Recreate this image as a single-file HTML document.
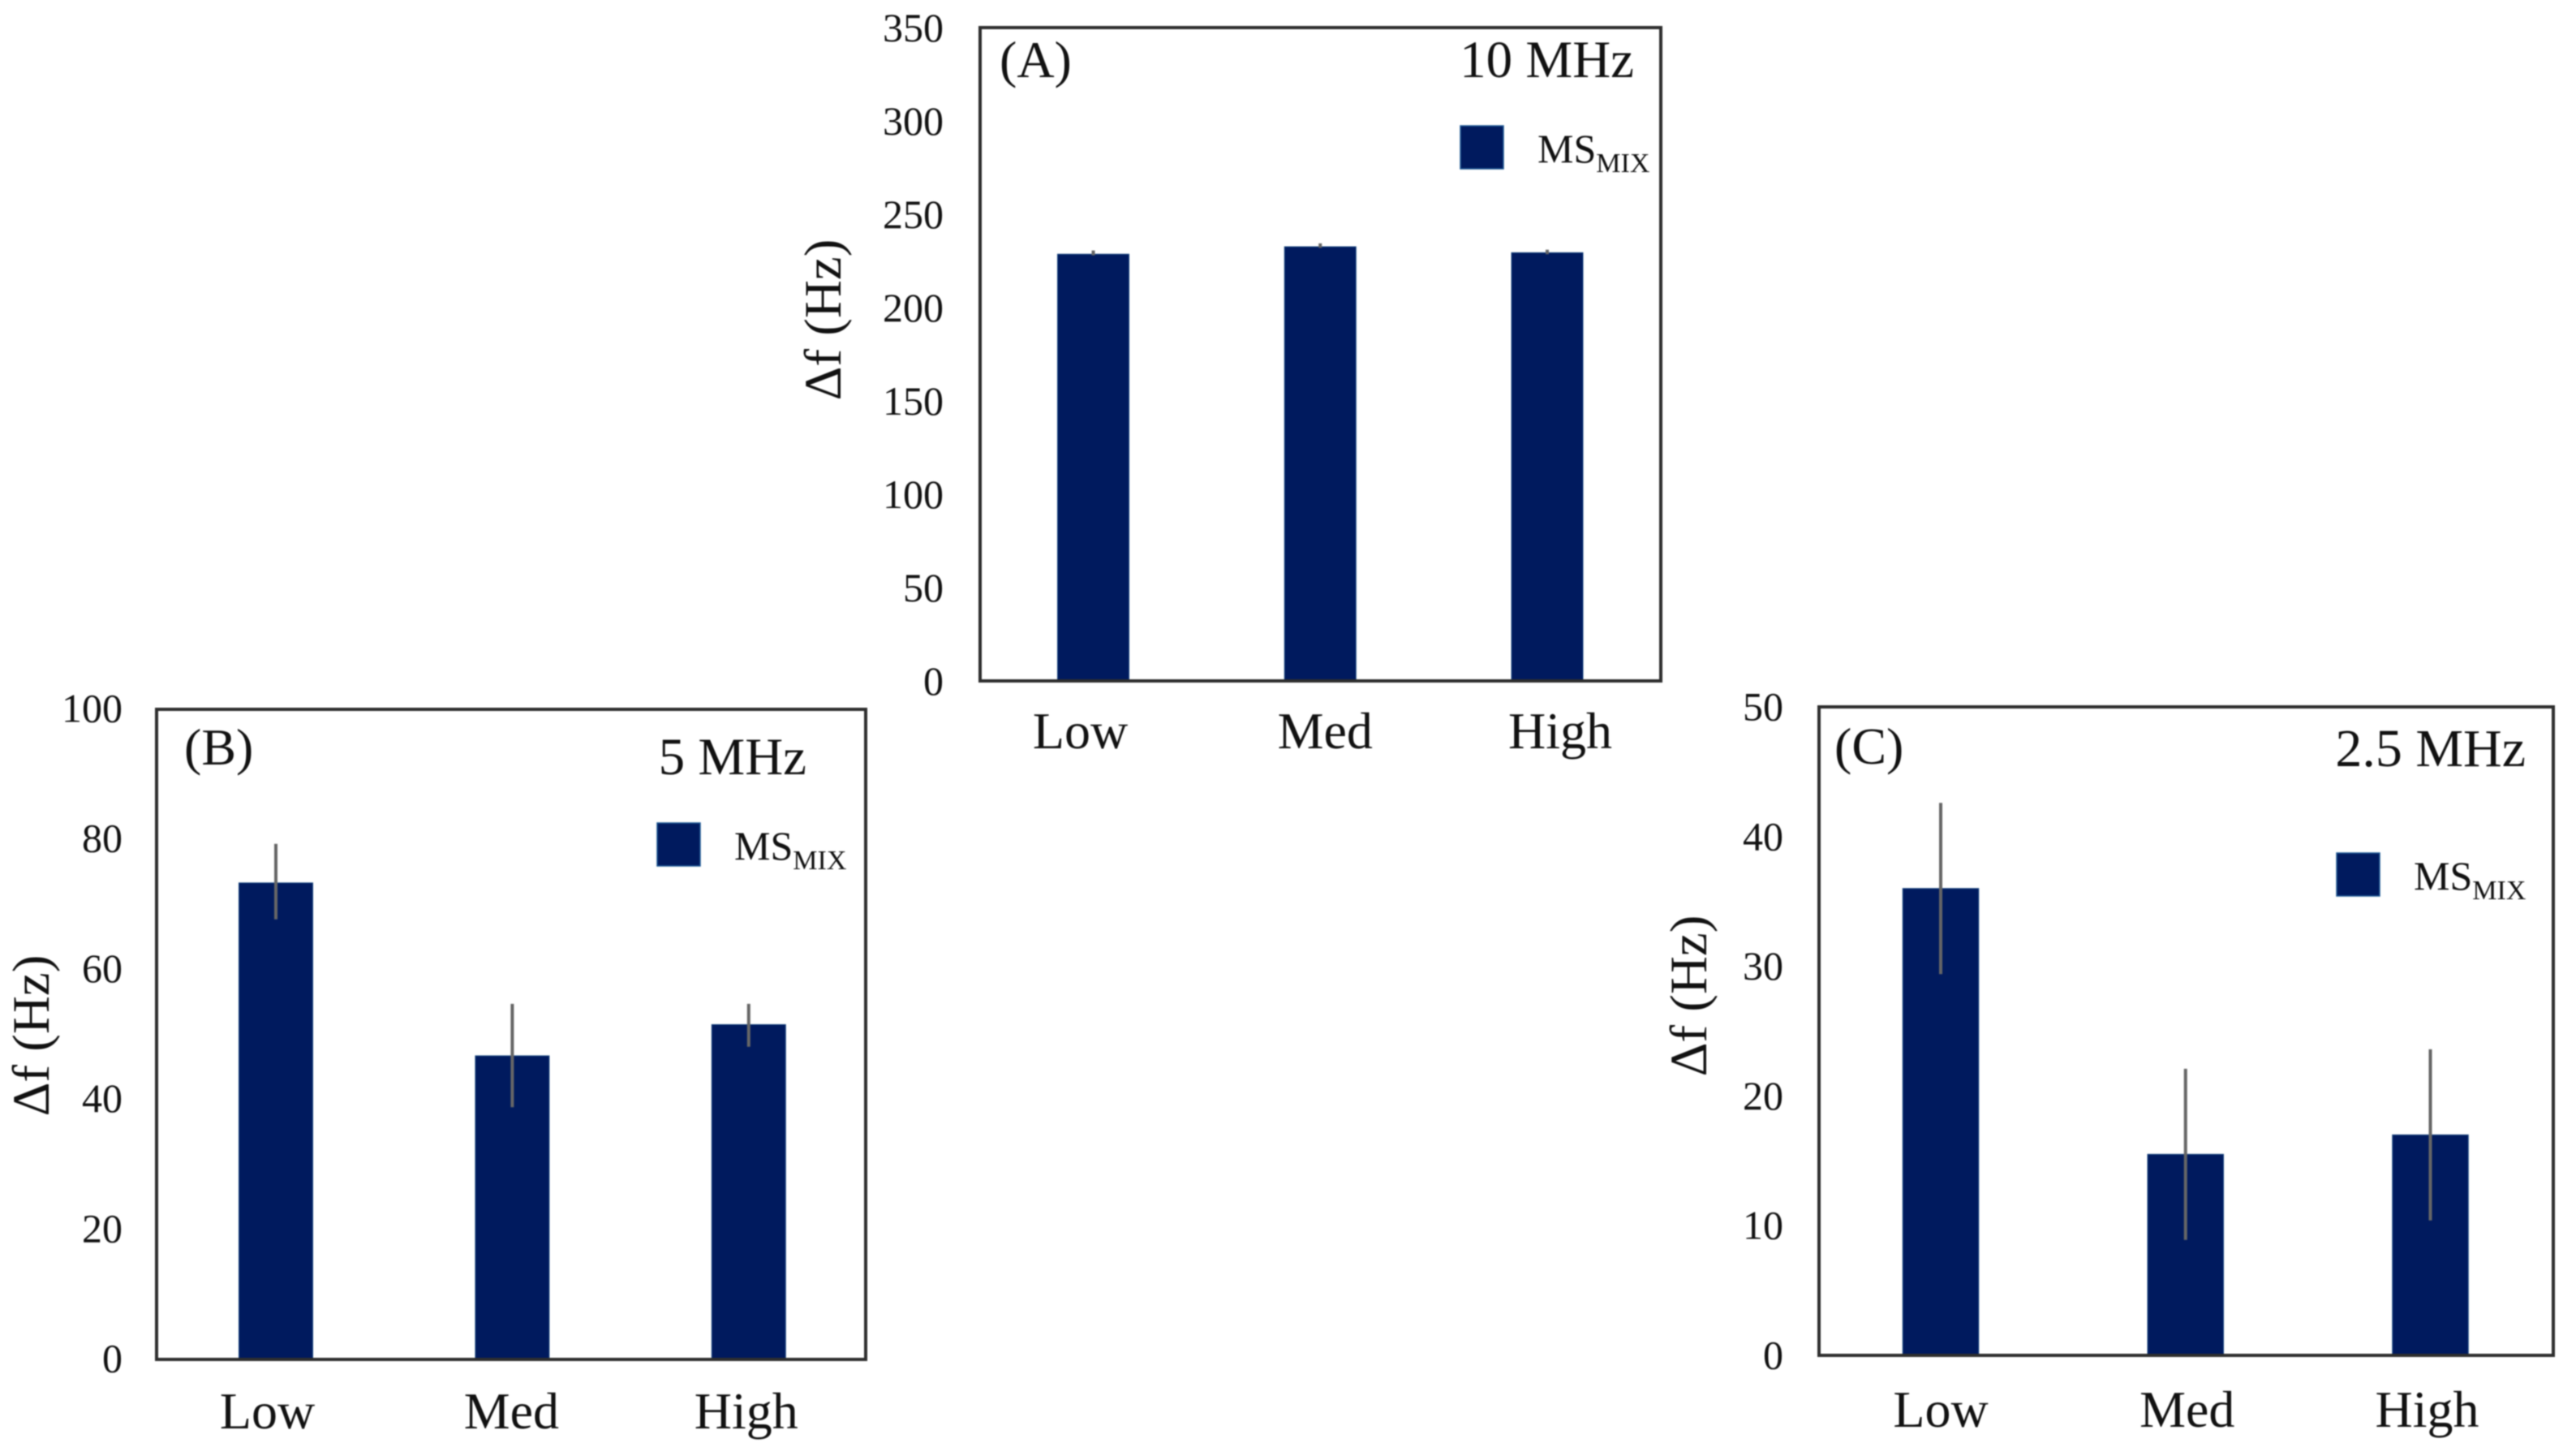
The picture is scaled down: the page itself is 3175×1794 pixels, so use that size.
<!DOCTYPE html>
<html lang="en">
<head>
<meta charset="utf-8">
<title>Frequency shift by concentration at 10, 5 and 2.5 MHz</title>
<style>
html,body{margin:0;padding:0;background:#fff;width:3175px;height:1794px;overflow:hidden}
svg{display:block;filter:blur(0.9px)}
text{font-family:"Liberation Serif","Times New Roman",serif;fill:#111}
</style>
</head>
<body>
<svg id="figure" xmlns="http://www.w3.org/2000/svg" width="3175" height="1794" viewBox="0 0 3175 1794"></svg>
<script>
const categories = ["Low", "Med", "High"];

const valuesA = [228.6, 232.6, 229.4];
const errLowA = [228, 232, 228.6];
const errHighA = [230.6, 234.4, 231];
const ticksA = [0, 50, 100, 150, 200, 250, 300, 350];

const valuesB = [73.3, 46.7, 51.5];
const errLowB = [67.7, 38.8, 48.1];
const errHighB = [79.3, 54.7, 54.7];
const ticksB = [0, 20, 40, 60, 80, 100];

const valuesC = [36, 15.5, 17];
const errLowC = [29.4, 8.9, 10.4];
const errHighC = [42.6, 22.1, 23.6];
const ticksC = [0, 10, 20, 30, 40, 50];

const panels = [
  {id:"a", letter:"(A)", freq:"10 MHz", values:valuesA, lo:errLowA, hi:errHighA, ticks:ticksA,
   left:1208, right:2047, top:34, bottom:839, yMax:350, x0:1347.5, step:279.75, barW:88, labelDx:[-16,6,16], tickDy:17, tickGap:45,
   labelY:922, letterX:1232, letterY:95, freqRight:2014, freqY:95, freqSize:65, legendX:1800, legendY:155, titleX:1036, titleY:394},
  {id:"b", letter:"(B)", freq:"5 MHz", values:valuesB, lo:errLowB, hi:errHighB, ticks:ticksB,
   left:193, right:1067, top:874, bottom:1675, yMax:100, x0:340, step:291.4, barW:91, labelDx:[-10.5,-1,-3], tickDy:15.5, tickGap:42,
   labelY:1760, letterX:227, letterY:942, freqRight:994, freqY:954, freqSize:65, legendX:810, legendY:1014, titleX:60, titleY:1276},
  {id:"c", letter:"(C)", freq:"2.5 MHz", values:valuesC, lo:errLowC, hi:errHighC, ticks:ticksC,
   left:2242, right:3147, top:871, bottom:1670, yMax:50, x0:2392, step:301.75, barW:93.5, labelDx:[0,2,-4], tickDy:16.5, tickGap:44,
   labelY:1758, letterX:2261, letterY:941, freqRight:3113, freqY:944, freqSize:66, legendX:2880, legendY:1051, titleX:2103, titleY:1227}
];

const NS = "http://www.w3.org/2000/svg";
const svg = document.getElementById("figure");

function make(parent, tag, attrs, content) {
  const el = document.createElementNS(NS, tag);
  for (const k in attrs) el.setAttribute(k, attrs[k]);
  if (content !== undefined) el.textContent = content;
  parent.appendChild(el);
  return el;
}

panels.forEach(function (p) {
  const yScale = function (v) { return p.bottom - (v / p.yMax) * (p.bottom - p.top); };
  const xScale = function (i) { return p.x0 + i * p.step; };

  const group = make(svg, "g", {});
  
  

  p.ticks.forEach(function (t) {
    const label = make(group, "text", {x: p.left - p.tickGap, y: yScale(t) + p.tickDy, "text-anchor": "end", "font-size": 50}, String(t));
    
    
  });

  const yTitle = make(group, "text", {transform: "translate(" + p.titleX + "," + p.titleY + ") rotate(-90)", "text-anchor": "middle", "font-size": 65}, "Δf (Hz)");
  
  

  p.values.forEach(function (v, i) {
    const cx = xScale(i);
    const bar = make(group, "rect", {x: cx - p.barW / 2, y: yScale(v), width: p.barW, height: p.bottom - yScale(v), fill: "#001a5e", stroke: "#17457f", "stroke-width": 1});
    
    
  });

  p.values.forEach(function (v, i) {
    const cx = xScale(i);
    const err = make(group, "line", {x1: cx, x2: cx, y1: yScale(p.lo[i]), y2: yScale(p.hi[i]), stroke: "#666", "stroke-width": 4});
    
    
  });

  const frame = make(group, "rect", {x: p.left, y: p.top, width: p.right - p.left, height: p.bottom - p.top, fill: "none", stroke: "#2e2e2e", "stroke-width": 4});
  
  

  categories.forEach(function (c, i) {
    const label = make(group, "text", {x: xScale(i) + p.labelDx[i], y: p.labelY, "text-anchor": "middle", "font-size": 64}, c);
    
    
  });

  const letter = make(group, "text", {x: p.letterX, y: p.letterY, "font-size": 64}, p.letter);
  
  

  const freq = make(group, "text", {x: p.freqRight, y: p.freqY, "text-anchor": "end", "font-size": p.freqSize}, p.freq);
  
  

  const swatch = make(group, "rect", {x: p.legendX, y: p.legendY, width: 53, height: 53, fill: "#001a5e", stroke: "#1f5a96", "stroke-width": 1.5});
  
  

  const legend = make(group, "text", {x: p.legendX + 95, y: p.legendY + 45, "font-size": 50});
  
  
  make(legend, "tspan", {}, "MS");
  make(legend, "tspan", {dy: 12, "font-size": 34}, "MIX");
});
</script>
</body>
</html>
